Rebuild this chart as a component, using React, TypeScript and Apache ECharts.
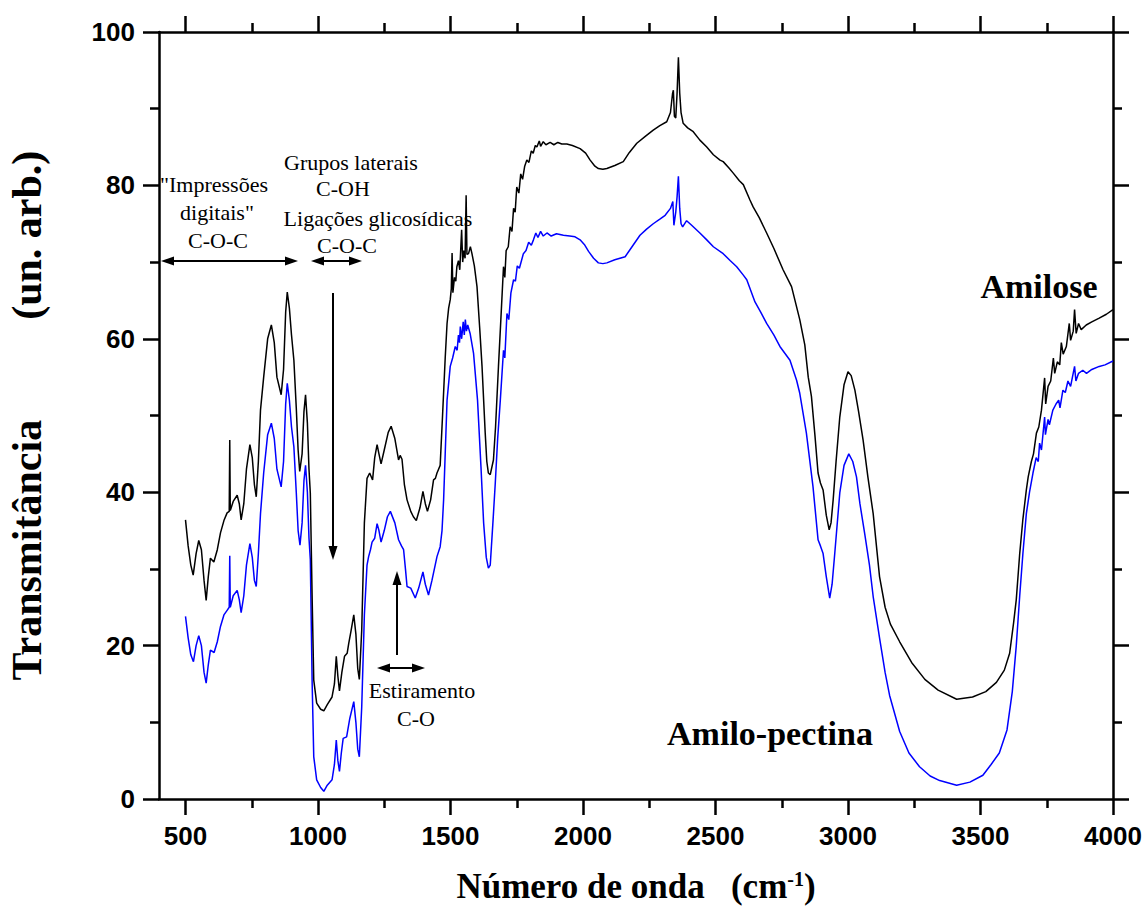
import React, { useEffect, useRef } from "react";
import * as echarts from "echarts";

// ---- Data (wavenumber cm-1, transmittance %) ----
const amilose: [number, number][] = [
  [500, 36.4], [510, 33.0], [520, 30.5], [529, 29.2], [540, 32.0], [550, 33.7], [560, 32.5], [570, 28.5],
  [578, 25.9], [586, 29.0], [594, 31.4], [607, 30.9], [620, 32.5], [632, 34.7], [645, 36.3], [657, 37.3],
  [665, 37.5], [667, 46.8], [669, 37.6], [680, 38.8], [695, 39.6], [703, 38.5], [710, 36.4], [720, 38.5],
  [730, 43.0], [743, 46.2], [752, 44.5], [760, 41.0], [767, 39.4], [775, 44.0], [783, 50.7], [795, 55.0],
  [810, 60.0], [824, 61.8], [835, 59.5], [845, 55.0], [861, 52.7], [870, 56.0], [878, 63.5], [884, 66.1],
  [892, 64.0], [900, 60.5], [909, 57.2], [918, 51.0], [925, 45.5], [931, 42.7], [940, 45.0], [947, 50.5],
  [953, 52.7], [960, 49.0], [966, 43.0], [971, 39.9], [978, 26.0], [984, 15.5], [995, 12.5], [1010, 11.7],
  [1022, 11.5], [1035, 12.3], [1053, 13.3], [1062, 15.0], [1069, 18.6], [1075, 16.0], [1081, 14.1], [1090, 16.5],
  [1100, 18.6], [1110, 19.0], [1116, 20.3], [1125, 22.0], [1135, 24.0], [1143, 21.5], [1150, 17.0], [1156, 15.6],
  [1165, 22.0], [1175, 36.0], [1185, 41.8], [1195, 42.5], [1206, 41.6], [1214, 44.5], [1223, 46.2], [1230, 45.0],
  [1238, 43.7], [1250, 45.5], [1265, 47.8], [1276, 48.6], [1290, 47.0], [1304, 44.2], [1310, 44.8], [1317, 44.3],
  [1326, 41.0], [1336, 39.0], [1350, 37.5], [1360, 36.8], [1371, 36.3], [1385, 38.0], [1396, 40.1], [1405, 38.5],
  [1413, 37.5], [1425, 39.0], [1436, 41.6], [1443, 41.8], [1449, 42.5], [1455, 43.0], [1461, 43.5], [1470, 50.0],
  [1480, 57.5], [1487, 62.0], [1493, 64.0], [1499, 65.1], [1503, 66.5], [1506, 71.2], [1509, 66.0], [1515, 68.0],
  [1520, 67.5], [1524, 69.4], [1530, 70.2], [1535, 69.0], [1542, 74.2], [1546, 70.0], [1550, 71.5], [1555, 70.5],
  [1559, 78.7], [1562, 71.0], [1568, 71.1], [1575, 72.0], [1581, 71.1], [1590, 69.5], [1600, 66.8], [1610, 61.5],
  [1619, 56.4], [1631, 47.7], [1637, 44.0], [1643, 42.5], [1650, 42.3], [1662, 44.2], [1670, 48.5], [1681, 56.4],
  [1690, 62.5], [1700, 69.4], [1705, 68.0], [1710, 71.5], [1718, 72.0], [1725, 74.6], [1732, 74.0], [1738, 77.0],
  [1744, 76.5], [1750, 79.8], [1758, 79.0], [1765, 81.5], [1772, 80.8], [1780, 82.5], [1788, 83.3], [1796, 83.0],
  [1805, 84.5], [1812, 84.2], [1820, 85.2], [1826, 85.0], [1835, 85.8], [1840, 85.1], [1850, 85.7], [1860, 85.3],
  [1876, 85.6], [1890, 85.3], [1905, 85.6], [1920, 85.4], [1939, 85.4], [1960, 85.2], [1989, 84.8], [2010, 84.2],
  [2027, 83.3], [2045, 82.5], [2058, 82.2], [2075, 82.1], [2090, 82.2], [2120, 82.6], [2152, 83.1], [2175, 84.3],
  [2203, 85.5], [2235, 86.4], [2265, 87.2], [2290, 87.8], [2316, 88.3], [2330, 89.5], [2338, 92.0], [2341, 92.4],
  [2345, 89.0], [2350, 88.8], [2355, 92.0], [2360, 96.7], [2365, 92.0], [2370, 89.5], [2378, 88.1], [2395, 87.5],
  [2416, 87.0], [2441, 85.9], [2467, 85.0], [2492, 84.0], [2517, 83.3], [2529, 83.1], [2550, 82.3], [2567, 81.6],
  [2590, 80.6], [2605, 80.1], [2630, 78.1], [2642, 77.2], [2665, 75.8], [2693, 73.8], [2720, 71.8], [2755, 69.0],
  [2787, 66.8], [2818, 62.5], [2837, 59.2], [2850, 55.0], [2862, 52.5], [2875, 47.5], [2887, 42.5], [2896, 41.2],
  [2906, 40.3], [2918, 37.0], [2929, 35.1], [2936, 36.0], [2944, 39.0], [2955, 44.0], [2969, 49.8], [2985, 54.0],
  [3000, 55.7], [3012, 55.2], [3026, 53.3], [3040, 50.5], [3057, 46.8], [3075, 42.0], [3095, 37.2], [3119, 29.0],
  [3140, 25.0], [3160, 22.8], [3195, 20.5], [3240, 17.8], [3290, 15.6], [3340, 14.2], [3410, 13.0], [3470, 13.3],
  [3520, 14.0], [3560, 15.2], [3590, 16.8], [3610, 19.0], [3625, 23.0], [3635, 26.0], [3648, 32.0], [3660, 36.5],
  [3673, 40.3], [3680, 42.0], [3692, 44.0], [3700, 45.0], [3711, 47.7], [3720, 48.5], [3730, 50.7], [3742, 54.9],
  [3746, 51.5], [3755, 53.8], [3765, 54.5], [3775, 57.5], [3780, 55.5], [3790, 57.0], [3799, 56.6], [3805, 59.5],
  [3812, 58.0], [3824, 59.0], [3835, 62.0], [3840, 59.8], [3850, 61.0], [3855, 63.8], [3861, 60.7], [3870, 62.0],
  [3880, 61.2], [3899, 61.8], [3920, 62.2], [3948, 62.7], [3975, 63.2], [4000, 63.8],
];

const amiloPectina: [number, number][] = [
  [500, 23.8], [510, 21.0], [520, 18.8], [530, 17.9], [540, 20.0], [550, 21.3], [560, 20.0], [570, 16.5],
  [578, 15.1], [586, 17.5], [594, 19.4], [608, 19.1], [620, 20.5], [632, 22.5], [645, 24.0], [657, 24.6],
  [665, 25.0], [667, 31.7], [669, 25.0], [680, 26.5], [695, 27.2], [703, 26.0], [710, 24.3], [720, 26.5],
  [730, 30.5], [743, 33.3], [752, 31.5], [760, 28.5], [767, 27.7], [775, 32.0], [783, 37.2], [795, 42.5],
  [810, 47.5], [824, 49.0], [835, 47.0], [845, 43.0], [861, 40.7], [870, 44.0], [878, 51.5], [884, 54.2],
  [892, 52.0], [900, 48.5], [909, 45.9], [918, 40.0], [925, 35.0], [932, 33.1], [940, 36.0], [947, 41.5],
  [953, 43.5], [960, 40.0], [966, 34.0], [971, 31.2], [978, 15.0], [984, 5.5], [995, 2.5], [1010, 1.5],
  [1022, 1.0], [1035, 1.8], [1053, 2.5], [1062, 4.5], [1069, 7.7], [1075, 5.0], [1081, 3.6], [1088, 6.0],
  [1095, 7.9], [1108, 8.1], [1120, 10.5], [1135, 12.7], [1143, 10.0], [1150, 6.5], [1156, 5.5], [1165, 12.0],
  [1175, 24.0], [1185, 30.5], [1191, 31.6], [1198, 32.5], [1204, 33.5], [1214, 34.0], [1223, 35.9], [1230, 35.0],
  [1238, 33.5], [1250, 35.0], [1262, 36.8], [1273, 37.5], [1290, 36.0], [1304, 33.8], [1315, 33.0], [1323, 32.5],
  [1330, 30.0], [1336, 27.7], [1350, 27.5], [1367, 26.2], [1380, 27.5], [1396, 29.6], [1405, 28.0], [1417, 26.6],
  [1430, 28.5], [1449, 31.6], [1461, 32.9], [1468, 35.0], [1474, 39.0], [1480, 45.0], [1487, 52.0], [1499, 56.4],
  [1508, 57.5], [1518, 59.0], [1525, 58.5], [1530, 60.5], [1534, 59.5], [1537, 61.6], [1542, 60.0], [1548, 62.2],
  [1552, 60.5], [1556, 62.5], [1560, 61.0], [1565, 61.8], [1574, 60.7], [1587, 58.1], [1602, 52.0], [1615, 43.3],
  [1625, 36.0], [1635, 31.5], [1643, 30.1], [1650, 30.5], [1660, 36.0], [1669, 41.2], [1678, 47.0], [1688, 52.0],
  [1700, 58.5], [1705, 57.5], [1713, 63.3], [1720, 62.5], [1728, 66.0], [1738, 67.7], [1745, 67.5], [1752, 69.5],
  [1760, 69.2], [1775, 71.1], [1785, 71.5], [1795, 72.6], [1805, 72.2], [1813, 72.9], [1822, 73.8], [1830, 73.2],
  [1840, 74.0], [1850, 73.4], [1864, 73.8], [1880, 73.4], [1900, 73.7], [1926, 73.5], [1950, 73.4], [1970, 73.3],
  [1989, 72.9], [2005, 72.3], [2021, 71.4], [2040, 70.5], [2058, 69.9], [2075, 69.8], [2090, 69.9], [2120, 70.3],
  [2159, 70.7], [2185, 72.0], [2215, 73.5], [2240, 74.3], [2265, 75.0], [2290, 75.6], [2310, 76.1], [2330, 77.0],
  [2339, 77.9], [2343, 74.8], [2350, 76.5], [2355, 78.5], [2360, 81.2], [2365, 77.0], [2370, 75.0], [2376, 74.6],
  [2391, 75.4], [2410, 74.8], [2441, 73.8], [2467, 72.9], [2492, 72.0], [2529, 71.1], [2555, 70.2], [2580, 69.4],
  [2605, 68.3], [2618, 67.7], [2649, 64.8], [2670, 63.5], [2693, 62.0], [2720, 60.5], [2743, 59.0], [2781, 57.2],
  [2806, 54.6], [2818, 52.9], [2843, 47.7], [2868, 40.7], [2887, 33.8], [2896, 33.0], [2906, 32.0], [2918, 29.0],
  [2931, 26.2], [2940, 28.0], [2950, 32.0], [2969, 39.9], [2985, 43.5], [3003, 45.0], [3018, 44.0], [3032, 42.0],
  [3045, 38.5], [3063, 34.6], [3081, 30.5], [3095, 26.4], [3119, 21.0], [3140, 16.5], [3157, 13.5], [3195, 8.8],
  [3230, 6.0], [3270, 4.2], [3310, 3.0], [3346, 2.4], [3410, 1.8], [3460, 2.2], [3509, 3.1], [3540, 4.5],
  [3571, 6.0], [3600, 9.0], [3620, 14.0], [3635, 20.0], [3648, 26.5], [3660, 32.0], [3673, 37.2], [3685, 40.0],
  [3698, 42.5], [3710, 44.5], [3718, 44.0], [3723, 46.4], [3730, 45.5], [3742, 49.8], [3745, 47.5], [3755, 49.5],
  [3760, 48.8], [3773, 50.7], [3785, 51.5], [3795, 52.0], [3800, 51.0], [3811, 53.3], [3820, 53.0], [3830, 54.5],
  [3840, 53.8], [3855, 56.4], [3860, 54.5], [3870, 55.5], [3886, 55.9], [3900, 55.5], [3920, 56.0], [3948, 56.4],
  [3970, 56.6], [4000, 57.1],
];

const xMajorTicks = [500, 1000, 1500, 2000, 2500, 3000, 3500, 4000];
const xMinorTicks = [750, 1250, 1750, 2250, 2750, 3250, 3750];

const seriesNames = ["Amilose", "Amilo-pectina"];
const xAxisTitle = "Número de onda   (cm{sup|-1})";
const yAxisTitle = "Transmitância{gap| }(un. arb.)";

const SERIF = "'Liberation Serif', 'Times New Roman', serif";
const SANS = "'Liberation Sans', Arial, sans-serif";

function hArrow(x1: number, x2: number, y: number, leftHead: boolean, rightHead: boolean) {
  const L = 13, W = 4.5;
  const els: any[] = [
    { type: "line", shape: { x1: leftHead ? x1 + 6 : x1, y1: y, x2: rightHead ? x2 - 6 : x2, y2: y }, style: { stroke: "#000", lineWidth: 2 }, z: 100 },
  ];
  if (leftHead) els.push({ type: "polygon", shape: { points: [[x1, y], [x1 + L, y - W], [x1 + L, y + W]] }, style: { fill: "#000" }, z: 100 });
  if (rightHead) els.push({ type: "polygon", shape: { points: [[x2, y], [x2 - L, y - W], [x2 - L, y + W]] }, style: { fill: "#000" }, z: 100 });
  return els;
}

function vArrow(x: number, yStart: number, yTip: number) {
  const L = 14, W = 4.5;
  const dir = yTip > yStart ? 1 : -1;
  return [
    { type: "line", shape: { x1: x, y1: yStart, x2: x, y2: yTip - dir * 6 }, style: { stroke: "#000", lineWidth: 2 }, z: 100 },
    { type: "polygon", shape: { points: [[x, yTip], [x - W, yTip - dir * L], [x + W, yTip - dir * L]] }, style: { fill: "#000" }, z: 100 },
  ];
}

function label(text: string, x: number, y: number, size = 22, bold = false) {
  return {
    type: "text",
    z: 100,
    style: {
      text, x, y, fill: "#000", fontSize: size, fontFamily: SERIF,
      fontWeight: bold ? "bold" : "normal", align: "center", verticalAlign: "middle",
    },
  };
}

export default function App() {
  const ref = useRef<HTMLDivElement>(null);

  useEffect(() => {
    if (!ref.current) return;
    const chart = echarts.init(ref.current, null, { renderer: "svg" });
    const axisLineStyle = { color: "#000", width: 2.5 };
    const tickStyle = { color: "#000", width: 2.5 };
    const baseX = { type: "value", min: 400, max: 4000, splitLine: { show: false }, gridIndex: 0 };

    const option: any = {
      animation: false,
      backgroundColor: "#fff",
      grid: { left: 159, right: 34, top: 32, bottom: 119, containLabel: false, outerBoundsMode: "none" },
      xAxis: [
        {
          ...baseX, position: "bottom",
          axisLine: { show: true, onZero: false, lineStyle: axisLineStyle },
          axisTick: { show: true, inside: false, length: 16, customValues: xMajorTicks, lineStyle: tickStyle },
          axisLabel: {
            show: true, customValues: xMajorTicks, margin: 24, color: "#000",
            fontSize: 26, fontWeight: "bold", fontFamily: SANS,
            formatter: (v: number) => String(v),
          },
          name: xAxisTitle, nameLocation: "middle", nameGap: 70,
          nameTextStyle: {
            color: "#000", fontSize: 35, fontWeight: "bold", fontFamily: SERIF,
            rich: { sup: { fontSize: 20, fontWeight: "bold", fontFamily: SERIF, color: "#000", verticalAlign: "top" } },
          },
        },
        {
          ...baseX, position: "bottom",
          axisLine: { show: false, onZero: false },
          axisTick: { show: true, inside: false, length: 9, customValues: xMinorTicks, lineStyle: tickStyle },
          axisLabel: { show: false },
        },
        {
          ...baseX, position: "top",
          axisLine: { show: true, onZero: false, lineStyle: axisLineStyle },
          axisTick: { show: true, inside: false, length: 16, customValues: xMajorTicks, lineStyle: tickStyle },
          axisLabel: { show: false },
        },
        {
          ...baseX, position: "top",
          axisLine: { show: false, onZero: false },
          axisTick: { show: true, inside: false, length: 9, customValues: xMinorTicks, lineStyle: tickStyle },
          axisLabel: { show: false },
        },
      ],
      yAxis: [
        {
          type: "value", min: 0, max: 100, interval: 20, position: "left",
          axisLine: { show: true, onZero: false, lineStyle: axisLineStyle },
          axisTick: { show: true, inside: false, length: 16, lineStyle: tickStyle },
          minorTick: { show: true, splitNumber: 2, length: 9, lineStyle: tickStyle },
          splitLine: { show: false }, minorSplitLine: { show: false },
          axisLabel: {
            show: true, margin: 24, color: "#000", fontSize: 26, fontWeight: "bold", fontFamily: SANS,
            showMinLabel: true, showMaxLabel: true,
          },
          name: yAxisTitle, nameLocation: "middle", nameGap: 111,
          nameTextStyle: {
            color: "#000", fontSize: 42, fontWeight: "bold", fontFamily: SERIF,
            rich: { gap: { width: 100, fontSize: 42, fontFamily: SERIF } },
          },
        },
        {
          type: "value", min: 0, max: 100, interval: 20, position: "right",
          axisLine: { show: true, onZero: false, lineStyle: axisLineStyle },
          axisTick: { show: true, inside: false, length: 16, lineStyle: tickStyle },
          minorTick: { show: true, splitNumber: 2, length: 9, lineStyle: tickStyle },
          splitLine: { show: false }, minorSplitLine: { show: false },
          axisLabel: { show: false },
        },
      ],
      series: [
        {
          name: seriesNames[0], type: "line", xAxisIndex: 0, yAxisIndex: 0, data: amilose,
          showSymbol: false, symbol: "none", lineStyle: { color: "#000000", width: 1.5 }, z: 3,
        },
        {
          name: seriesNames[1], type: "line", xAxisIndex: 0, yAxisIndex: 0, data: amiloPectina,
          showSymbol: false, symbol: "none", lineStyle: { color: "#0000ff", width: 1.5 }, z: 2,
        },
      ],
      graphic: [
        label('"Impressões', 214, 184),
        label('digitais"', 217, 212),
        label("C-O-C", 218, 240),
        label("Grupos laterais", 351, 162),
        label("C-OH", 343, 188),
        label("Ligações glicosídicas", 378, 218),
        label("C-O-C", 347, 245),
        label("Estiramento", 422, 690),
        label("C-O", 416, 718),
        label(seriesNames[0], 1039, 286, 34, true),
        label(seriesNames[1], 770, 733, 34, true),
        ...hArrow(161, 298, 261, true, true),
        ...hArrow(311, 362, 261, true, true),
        ...vArrow(333, 293, 560),
        ...vArrow(397, 655, 571),
        ...hArrow(377, 425, 668, true, true),
      ],
    };
    chart.setOption(option);
    return () => chart.dispose();
  }, []);

  return (
    <div
      ref={ref}
      style={{ position: "fixed", left: 0, top: 0, width: 1147, height: 918, background: "#fff" }}
    />
  );
}
